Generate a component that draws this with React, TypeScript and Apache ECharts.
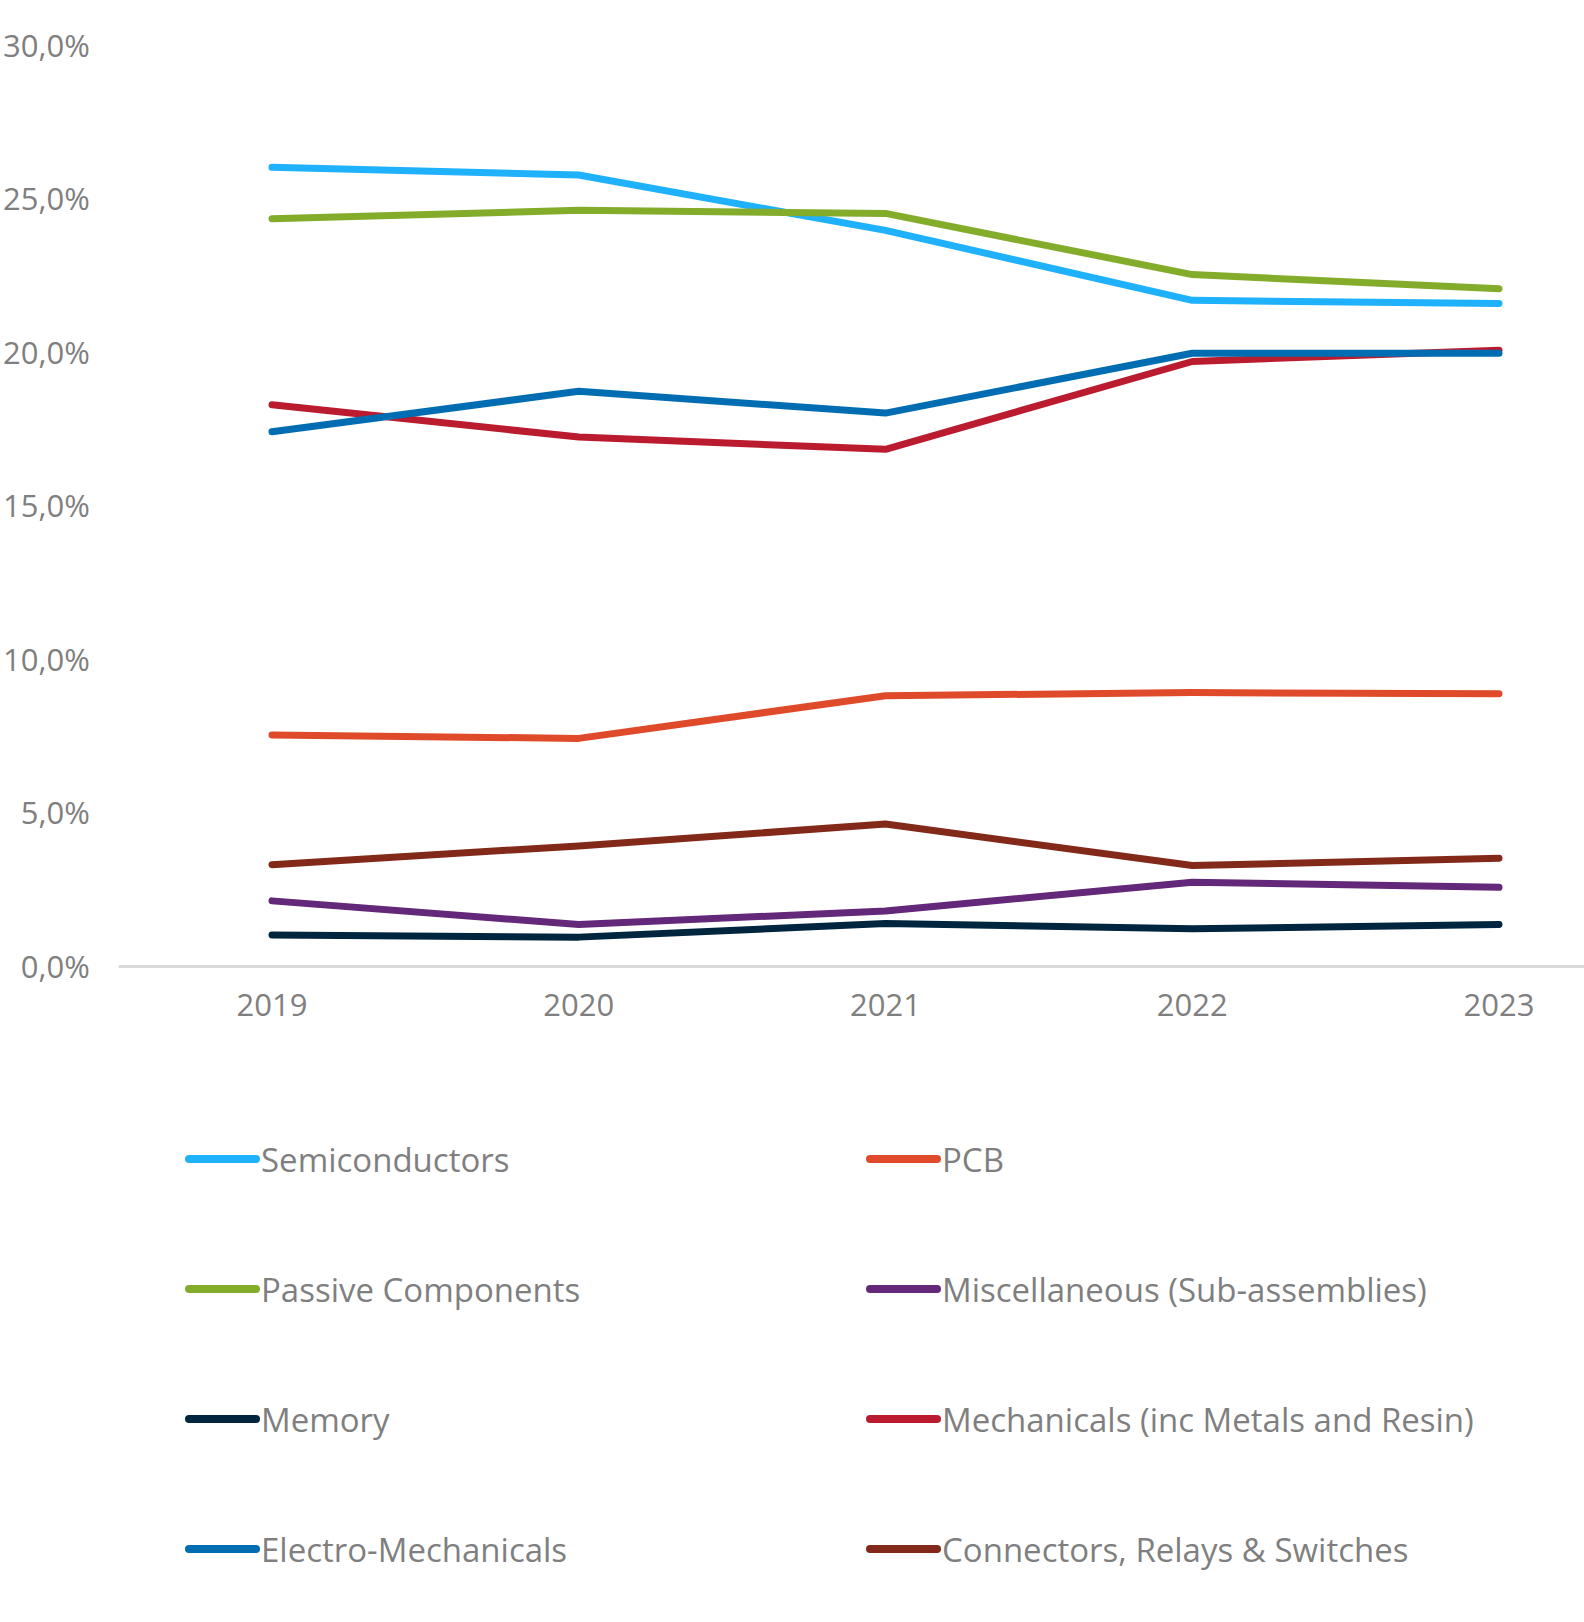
import React, { useEffect, useRef } from "react";
import * as echarts from "echarts";

const years = ["2019", "2020", "2021", "2022", "2023"];

const seriesNames = [
  "Semiconductors",
  "PCB",
  "Passive Components",
  "Miscellaneous (Sub-assemblies)",
  "Memory",
  "Mechanicals (inc Metals and Resin)",
  "Electro-Mechanicals",
  "Connectors, Relays & Switches",
];

const semiconductors = [26.0, 25.75, 23.95, 21.67, 21.57];
const pcb = [7.52, 7.41, 8.8, 8.9, 8.86];
const passive = [24.33, 24.6, 24.5, 22.51, 22.05];
const misc = [2.12, 1.35, 1.79, 2.73, 2.56];
const memory = [1.01, 0.94, 1.38, 1.21, 1.35];
const mechanicals = [18.27, 17.22, 16.82, 19.68, 20.05];
const electroMech = [17.39, 18.71, 18.0, 19.95, 19.95];
const connectors = [3.3, 3.91, 4.62, 3.27, 3.51];

const seriesValues = [semiconductors, pcb, passive, misc, memory, mechanicals, electroMech, connectors];

const colors = ["#1FB1FB", "#DF4A2B", "#84AC2B", "#64287A", "#00253F", "#BA1B2E", "#006DB3", "#822919"];

const yTicks = { min: 0, max: 30, interval: 5 };

const FONT = "'Open Sans', sans-serif";
const GRAY = "#7F7F7F";

export default function App() {
  const ref = useRef<HTMLDivElement>(null);
  useEffect(() => {
    document.body.style.margin = "0";
    if (!ref.current) return;
    const chart = echarts.init(ref.current, undefined, { renderer: "svg" });
    const icon = "path://M4,0 L71,0 A4,4 0 0 1 71,8 L4,8 A4,4 0 0 1 4,0 Z";
    const legendCommon = {
      orient: "vertical",
      icon,
      itemWidth: 75,
      itemHeight: 8,
      itemGap: 90,
      top: 1134,
      selectedMode: false,
      textStyle: { fontFamily: FONT, fontSize: 33, color: GRAY, lineHeight: 40, padding: [0, 0, 0, -4] },
    };
    const top = 44.5;
    const height = 921.5;
    chart.setOption({
      animation: false,
      backgroundColor: "#ffffff",
      color: colors,
      grid: [
        { left: 272, right: 85, top, height, containLabel: false },
        { left: 118.6, right: 0, top, height, containLabel: false },
      ],
      legend: [
        { ...legendCommon, left: 180, data: [seriesNames[0], seriesNames[2], seriesNames[4], seriesNames[6]] },
        { ...legendCommon, left: 861, data: [seriesNames[1], seriesNames[3], seriesNames[5], seriesNames[7]] },
      ],
      xAxis: [
        {
          type: "category",
          gridIndex: 0,
          data: years,
          boundaryGap: false,
          axisLine: { show: false },
          axisTick: { show: false },
          axisLabel: { fontFamily: FONT, fontSize: 31, color: GRAY, margin: 22 },
          splitLine: { show: false },
        },
        {
          type: "value",
          gridIndex: 1,
          min: 0,
          max: 1,
          axisLine: { show: true, lineStyle: { color: "#D9D9D9", width: 3 } },
          axisTick: { show: false },
          axisLabel: { show: false },
          splitLine: { show: false },
        },
      ],
      yAxis: [
        {
          type: "value",
          gridIndex: 0,
          min: yTicks.min,
          max: yTicks.max,
          interval: yTicks.interval,
          axisLine: { show: false },
          axisTick: { show: false },
          splitLine: { show: false },
          axisLabel: { show: false },
        },
        {
          type: "value",
          gridIndex: 1,
          min: yTicks.min,
          max: yTicks.max,
          interval: yTicks.interval,
          axisLine: { show: false },
          axisTick: { show: false },
          splitLine: { show: false },
          axisLabel: {
            fontFamily: FONT,
            fontSize: 31,
            color: GRAY,
            margin: 30,
            formatter: (v: number) => v.toFixed(1).replace(".", ",") + "%",
          },
        },
      ],
      series: seriesNames.map((name, i) => ({
        name,
        type: "line",
        xAxisIndex: 0,
        yAxisIndex: 0,
        data: seriesValues[i],
        symbol: "none",
        lineStyle: { width: 7, color: colors[i], cap: "round", join: "round" },
        itemStyle: { color: colors[i] },
      })),
    });
    return () => chart.dispose();
  }, []);
  return <div ref={ref} style={{ width: 1584, height: 1622 }} />;
}
